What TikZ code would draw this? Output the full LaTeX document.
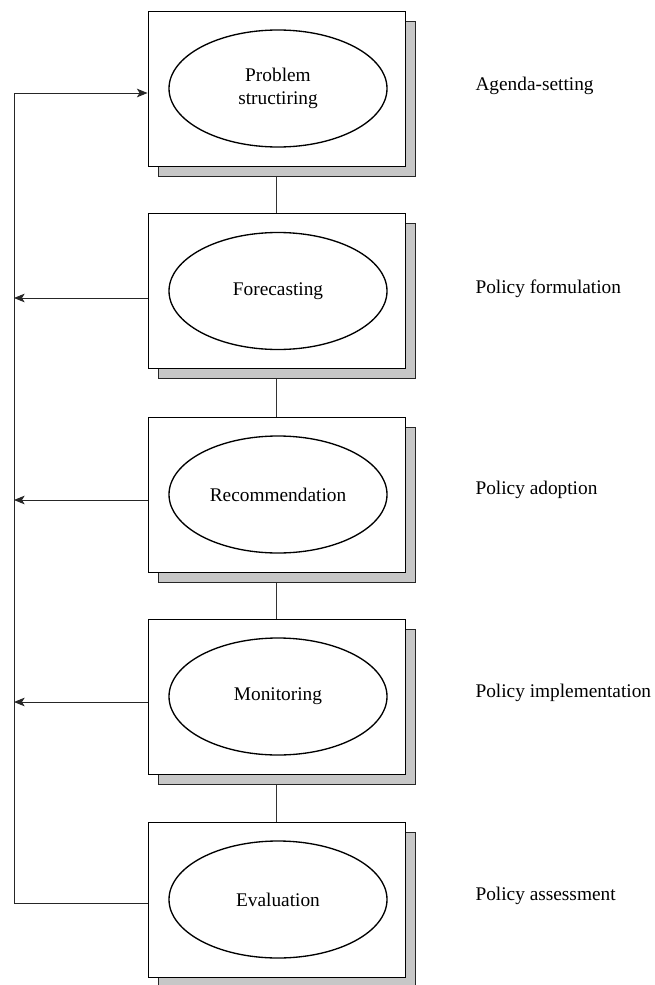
\documentclass[tikz,border=0pt]{standalone}
\usepackage{fontspec}
\setmainfont{Liberation Serif}
\usetikzlibrary{shapes.geometric,shadows,arrows.meta,backgrounds}

\tikzset{every picture/.style={line width=0.75pt}}
\tikzset{
  stagebox/.style={draw=black, fill=white, line width=0.7pt, minimum width=192.75pt, minimum height=116.25pt, inner sep=0pt,
    copy shadow={shadow xshift=7.5pt, shadow yshift=-7.5pt, fill=black!22, draw=black!85, line width=0.7pt}},
  stageoval/.style={ellipse, draw, line width=1pt, minimum width=163.5pt, minimum height=87.75pt, inner sep=0pt, align=center, font=\fontsize{14.5}{17}\selectfont},
  phase/.style={anchor=base west, inner sep=0.75pt, font=\fontsize{14.5}{17}\selectfont},
  link/.style={draw=black!80, line width=0.7pt},
  fb/.style={draw=black!85, line width=0.7pt, -{Stealth[length=8pt,width=6.5pt,inset=2pt]}}
}

\begin{document}
\begin{tikzpicture}[x=0.75pt,y=0.75pt,yscale=-1,xscale=1]
\useasboundingbox (0,0) rectangle (655,985);

%Shape: Stage boxes
\node[stagebox] (box1) at (276.5,88.5) {};
\node[stagebox] (box2) at (276.5,291) {};
\node[stagebox] (box3) at (276.5,494.5) {};
\node[stagebox] (box4) at (276.5,696.5) {};
\node[stagebox] (box5) at (276.5,899.5) {};

%Shape: Ellipses
\node[stageoval] (ps) at (278,88.5) {Problem\\structiring};
\node[stageoval] (fc) at (278,291) {Forecasting};
\node[stageoval] (rc) at (278,494.5) {Recommendation};
\node[stageoval] (mn) at (278,696.5) {Monitoring};
\node[stageoval] (ev) at (278,899.5) {Evaluation};

% Text Node
\node[phase] (agenda) at (474,90) {Agenda-setting};
% Text Node
\node[phase] (formulation) at (474,293) {Policy formulation};
% Text Node
\node[phase] (adoption) at (474,494) {Policy adoption};
% Text Node
\node[phase] (implementation) at (474,697) {Policy implementation};
% Text Node
\node[phase] (assessment) at (474,900) {Policy assessment};

% Connection
\begin{pgfonlayer}{background}
\draw[link] (box1) -- (box2);
\draw[link] (box2) -- (box3);
\draw[link] (box3) -- (box4);
\draw[link] (box4) -- (box5);
\end{pgfonlayer}

%Feedback rail
\coordinate (rail1) at (14,93);
\coordinate (rail2) at (14,298);
\coordinate (rail3) at (14,500);
\coordinate (rail4) at (14,702);
\coordinate (rail5) at (14,903);

\draw[fb] (box2.west |- rail2) -- (rail2);
\draw[fb] (box3.west |- rail3) -- (rail3);
\draw[fb] (box4.west |- rail4) -- (rail4);
\draw[fb] (box5.west |- rail5) -- (rail5) -- (rail1) -- (box1.west |- rail1);

\end{tikzpicture}
\end{document}
